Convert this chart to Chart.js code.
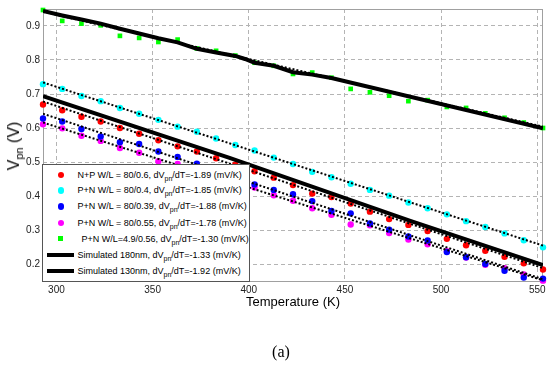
<!DOCTYPE html>
<html>
<head>
<meta charset="utf-8">
<script src="https://cdn.jsdelivr.net/npm/chart.js@4.4.1/dist/chart.umd.min.js"></script>
<style>
html,body{margin:0;padding:0;background:#fff;}
#wrap{position:relative;width:550px;height:366px;overflow:hidden;font-family:Arial,"Liberation Sans",Helvetica,sans-serif;}
#c{position:absolute;left:0;top:0;}
#ytitle{position:absolute;left:14px;top:146px;transform:translate(-50%,-50%) rotate(-90deg);font-size:16px;line-height:16px;white-space:nowrap;color:#000;}
#ytitle sub{font-size:11px;vertical-align:-4px;line-height:0;}
#legend{position:absolute;left:42px;top:164px;width:208px;height:118px;box-sizing:border-box;border:1px solid #555;background:#fff;}
.row{position:absolute;left:0;width:206px;height:14px;}
.mk{position:absolute;}
.txt{position:absolute;top:0;line-height:14px;font-size:9px;white-space:nowrap;color:#000;}
.txt sub{font-size:7px;vertical-align:-3px;line-height:0;}
#cap{position:absolute;left:281px;top:352px;transform:translate(-50%,-50%);font-family:"Liberation Serif","DejaVu Serif",serif;font-size:16px;color:#000;}
</style>
</head>
<body>
<div id="wrap">
<canvas id="c" width="550" height="366"></canvas>
<div id="ytitle">V<sub>pn</sub> (V)</div>
<div id="legend"></div>
<div id="cap">(a)</div>
</div>
<script>
// ---- data ----
const temps = [293,303,313,323,333,343,353,363,373,383,393,403,413,423,433,443,453,463,473,483,493,503,513,523,533,543,553];
const redNP_80_06   = [0.669,0.652,0.633,0.619,0.600,0.583,0.564,0.546,0.531,0.511,0.492,0.473,0.454,0.432,0.407,0.397,0.378,0.354,0.332,0.315,0.297,0.274,0.255,0.239,0.221,0.202,0.184];
const cyanPN_80_04  = [0.729,0.715,0.694,0.679,0.659,0.642,0.624,0.604,0.589,0.569,0.550,0.534,0.513,0.494,0.471,0.455,0.436,0.418,0.401,0.381,0.364,0.346,0.326,0.309,0.290,0.270,0.249];
const bluePN_80_039 = [0.628,0.619,0.597,0.575,0.558,0.553,0.531,0.515,0.495,null,null,0.434,0.418,0.405,0.385,0.356,0.349,0.319,0.301,0.281,0.269,0.235,0.220,0.200,0.180,0.160,0.157];
const magPN_80_055  = [0.611,0.599,0.577,0.562,0.541,0.527,0.502,0.494,null,null,null,0.425,0.402,0.386,0.364,0.345,0.316,0.314,0.291,0.272,0.258,0.238,0.219,0.198,0.188,0.169,0.151];
const greenPN_49_056= [0.947,0.915,0.907,0.902,0.871,0.865,0.853,0.860,0.834,0.827,0.813,0.792,0.783,0.759,0.763,0.748,0.715,0.705,0.695,0.679,0.682,0.662,0.659,0.643,0.630,0.616,0.600];

const sim180T = [293,303,313,323,333,343,353,363,373,383,393,398,403,413,423,433,443,553];
const sim180V = [0.944,0.931,0.919,0.907,0.892,0.878,0.864,0.852,0.833,0.822,0.812,0.803,0.792,0.783,0.764,0.757,0.747,0.599];
const sim130T = [293,390,484,553];
const sim130V = [0.694,0.512,0.327,0.197];

const fitT     = [293,553];
const redFit   = [0.678,0.188];
const cyanFit  = [0.734,0.254];
const blueFit  = [0.642,0.155];
const magFit   = [0.616,0.152];
const greenFit = [0.942,0.604];

const xTicks = [300,350,400,450,500,550];
const yTicks = [0.2,0.3,0.4,0.5,0.6,0.7,0.8,0.9];

const legendLabels = [
  'N+P W/L = 80/0.6, dV<sub>pn</sub>/dT=-1.89 (mV/K)',
  'P+N W/L = 80/0.4, dV<sub>pn</sub>/dT=-1.85 (mV/K)',
  'P+N W/L = 80/0.39, dV<sub>pn</sub>/dT=-1.88 (mV/K)',
  'P+N W/L = 80/0.55, dV<sub>pn</sub>/dT=-1.78 (mV/K)',
  'P+N W/L=4.9/0.56, dV<sub>pn</sub>/dT=-1.30 (mV/K)',
  'Simulated 180nm, dV<sub>pn</sub>/dT=-1.33 (mV/K)',
  'Simulated 130nm, dV<sub>pn</sub>/dT=-1.92 (mV/K)'
];
const colors = ['#ff0000','#00ffff','#0000ff','#ff00ff','#00ff00','#000000','#000000'];

// ---- build ----
const pts = (xs, ys) => xs.map((x,i) => ({x:x, y:ys[i]}));
const FONT = 'Arial, "Liberation Sans", Helvetica, sans-serif';

function markerSet(ys, color, style, r){
  return {data: pts(temps, ys), showLine:false, pointStyle:style, pointRadius:r, pointHoverRadius:r,
          backgroundColor:color, borderColor:color, borderWidth:0, order:3, clip:false};
}
function lineSet(xs, ys, width, dash, order){
  return {data: pts(xs, ys), showLine:true, pointRadius:0, borderColor:'#000', borderWidth:width,
          borderDash:dash, tension:0, fill:false, order:order};
}

const datasets = [
  markerSet(redNP_80_06, colors[0], 'circle', 3.2),
  markerSet(cyanPN_80_04, colors[1], 'circle', 3.2),
  markerSet(bluePN_80_039, colors[2], 'circle', 3.2),
  markerSet(magPN_80_055, colors[3], 'circle', 3.2),
  markerSet(greenPN_49_056, colors[4], 'rect', 3.3),
  lineSet(sim180T, sim180V, 4, [], 2),
  lineSet(sim130T, sim130V, 4, [], 2),
  lineSet(fitT, redFit, 2, [2,2], 1),
  lineSet(fitT, cyanFit, 2, [2,2], 1),
  lineSet(fitT, blueFit, 2, [2,2], 1),
  lineSet(fitT, magFit, 2, [2,2], 1),
  lineSet(fitT, greenFit, 2, [2,2], 1)
];

const boxPlugin = {
  id:'box',
  beforeDatasetsDraw(chart){
    const a = chart.chartArea, ctx = chart.ctx;
    ctx.save();
    ctx.strokeStyle = '#a0a0a0';
    ctx.lineWidth = 1;
    ctx.setLineDash([]);
    ctx.strokeRect(Math.round(a.left)+0.5, Math.round(a.top)+0.5, Math.round(a.right-a.left)-1, Math.round(a.bottom-a.top));
    ctx.restore();
  }
};

const gridOpts = {color:'#b4b4b4', lineWidth:1, drawTicks:false};
const borderOpts = {display:false, dash:[4,3]};

new Chart(document.getElementById('c'), {
  type:'scatter',
  data:{datasets:datasets},
  plugins:[boxPlugin],
  options:{
    responsive:false, animation:false, devicePixelRatio:1,
    layout:{padding:{left:0, top:6, right:7, bottom:0}},
    plugins:{legend:{display:false}, tooltip:{enabled:false}},
    scales:{
      x:{type:'linear', min:293, max:553,
         afterBuildTicks:s=>{ s.ticks = xTicks.map(v=>({value:v})); },
         afterFit:s=>{ s.height = 85; },
         grid:gridOpts, border:borderOpts,
         ticks:{padding:3, color:'#222', font:{size:10, family:FONT}, maxRotation:0, autoSkip:false},
         title:{display:true, text:'Temperature (K)', color:'#000', font:{size:13, family:FONT}, padding:{top:0, bottom:56}}
      },
      y:{type:'linear', min:0.15, max:0.95,
         afterBuildTicks:s=>{ s.ticks = yTicks.map(v=>({value:v})); },
         afterFit:s=>{ s.width = 43; },
         grid:gridOpts, border:borderOpts,
         ticks:{padding:3, color:'#222', font:{size:10, family:FONT}, callback:v=>Number(v).toFixed(1)}
      }
    }
  }
});

// ---- HTML legend ----
const leg = document.getElementById('legend');
const rowY = [10.7,26.3,42.3,58.5,74.8,90.7,106.5];
legendLabels.forEach((lab,i)=>{
  const row = document.createElement('div');
  row.className = 'row';
  row.style.top = (rowY[i]-7-1) + 'px';
  const mk = document.createElement('div');
  mk.className = 'mk';
  if (i < 4) {
    mk.style.cssText = 'left:14.5px;top:4px;width:6.4px;height:6.4px;border-radius:50%;background:'+colors[i]+';';
  } else if (i === 4) {
    mk.style.cssText = 'left:15px;top:4.5px;width:5px;height:5px;background:'+colors[i]+';';
  } else {
    mk.style.cssText = 'left:4px;top:5px;width:27px;height:4px;background:#000;';
  }
  row.appendChild(mk);
  const t = document.createElement('div');
  t.className = 'txt';
  t.style.left = (i === 4 ? 38.5 : 34.5) + 'px';
  t.innerHTML = lab;
  row.appendChild(t);
  leg.appendChild(row);
});
</script>
</body>
</html>
